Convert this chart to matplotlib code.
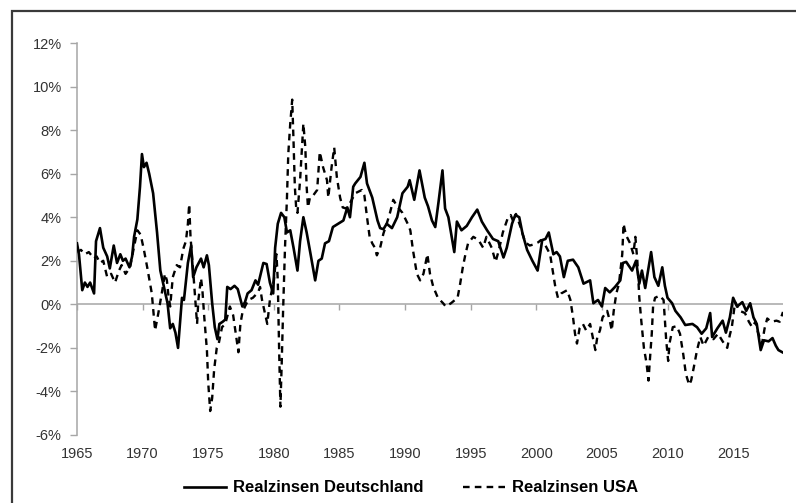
import matplotlib
matplotlib.use("Agg")
import matplotlib.pyplot as plt
from matplotlib.patches import Rectangle
from matplotlib.ticker import FuncFormatter

plt.rcParams['font.family'] = ['Liberation Sans', 'DejaVu Sans']

# Realzinsen Deutschland (solid)
de_years = [1965.0, 1965.15, 1965.4, 1965.6, 1965.8, 1966.0, 1966.3, 1966.45, 1966.75, 1967.0,
            1967.3, 1967.5, 1967.8, 1968.05, 1968.3, 1968.5, 1968.7, 1969.0, 1969.2, 1969.35,
            1969.6, 1969.8, 1969.95, 1970.1, 1970.3, 1970.5, 1970.8, 1971.1, 1971.35, 1971.7,
            1971.9, 1972.1, 1972.3, 1972.5, 1972.7, 1973.0, 1973.15, 1973.45, 1973.7, 1973.85,
            1974.1, 1974.45, 1974.65, 1974.9, 1975.05, 1975.3, 1975.5, 1975.7, 1975.85, 1976.1,
            1976.3, 1976.45, 1976.7, 1977.0, 1977.25, 1977.6, 1977.8, 1978.0, 1978.3, 1978.6,
            1978.8, 1979.2, 1979.45, 1979.7, 1979.95, 1980.1, 1980.3, 1980.55, 1980.8, 1981.0,
            1981.25, 1981.5, 1981.8, 1982.0, 1982.25, 1982.5, 1982.8, 1983.15, 1983.4, 1983.65,
            1983.9, 1984.2, 1984.5, 1984.9, 1985.3, 1985.6, 1985.8, 1986.05, 1986.2, 1986.6,
            1986.9, 1987.1, 1987.5, 1987.9, 1988.1, 1988.35, 1988.6, 1989.0, 1989.4, 1989.8,
            1990.2, 1990.35, 1990.7, 1991.1, 1991.5, 1991.75, 1992.05, 1992.3, 1992.55, 1992.85,
            1993.05, 1993.3, 1993.75, 1993.95, 1994.3, 1994.7, 1995.1, 1995.5, 1995.85, 1996.25,
            1996.7, 1997.1, 1997.5, 1997.75, 1998.15, 1998.4, 1998.7, 1998.95, 1999.3, 1999.7,
            2000.1, 2000.45, 2000.7, 2000.95, 2001.3, 2001.55, 2001.8, 2002.1, 2002.4, 2002.8,
            2003.2, 2003.6, 2004.1, 2004.35, 2004.7, 2005.0, 2005.25, 2005.6, 2006.0, 2006.4,
            2006.6, 2006.85, 2007.3, 2007.6, 2007.85, 2008.05, 2008.3, 2008.75, 2009.0, 2009.3,
            2009.6, 2009.8, 2010.0, 2010.35, 2010.6, 2011.0, 2011.35, 2011.9, 2012.25, 2012.6,
            2012.95, 2013.25, 2013.4, 2013.8, 2014.2, 2014.45, 2014.75, 2015.0, 2015.3, 2015.7,
            2016.0, 2016.3, 2016.55, 2016.8, 2017.1, 2017.35, 2017.7, 2018.0, 2018.25, 2018.45,
            2018.75]
de_vals = [2.8, 2.3, 0.65, 1.0, 0.8, 1.0, 0.5, 2.9, 3.5, 2.6,
           2.2, 1.65, 2.7, 1.9, 2.3, 2.0, 2.1, 1.7, 2.2, 3.1,
           3.9, 5.4, 6.9, 6.3, 6.5, 6.0, 5.1, 3.3, 1.55, 0.6,
           0.05, -1.1, -0.9, -1.3, -2.0, 0.3, 0.2, 1.9, 2.7, 1.25,
           1.7, 2.1, 1.7, 2.25, 1.8, 0.05, -1.05, -1.6, -0.9, -0.8,
           -0.7, 0.8, 0.7, 0.85, 0.7, -0.1, 0.1, 0.5, 0.65, 1.1,
           0.9, 1.9, 1.85, 1.0, 0.5, 2.6, 3.7, 4.2, 4.0, 3.3,
           3.4, 2.6, 1.55, 2.9, 4.0, 3.3, 2.3, 1.1, 2.0, 2.1,
           2.8, 2.9, 3.55, 3.7, 3.85, 4.45, 4.0, 5.4, 5.55, 5.85,
           6.5, 5.55, 4.9, 3.85, 3.5, 3.45, 3.7, 3.5, 4.0, 5.1,
           5.4, 5.7, 4.8, 6.15, 4.9, 4.5, 3.85, 3.55, 4.7, 6.15,
           4.4, 4.0, 2.4, 3.8, 3.4, 3.6, 4.0, 4.35, 3.8, 3.4,
           3.0, 2.9, 2.15, 2.6, 3.7, 4.1, 4.0, 3.25, 2.5, 2.0,
           1.55, 2.95, 3.0, 3.3, 2.3, 2.4, 2.2, 1.25, 2.0, 2.05,
           1.7, 0.95, 1.1, 0.05, 0.2, -0.1, 0.75, 0.55, 0.8, 1.1,
           1.9, 1.95, 1.55, 2.0, 0.95, 1.55, 0.75, 2.4, 1.25, 0.85,
           1.7, 0.85, 0.3, 0.05, -0.3, -0.6, -0.95, -0.9, -1.05, -1.35,
           -1.1, -0.4, -1.5, -1.1, -0.75, -1.3, -0.6, 0.3, -0.1, 0.1,
           -0.3, 0.05, -0.6, -0.9, -2.1, -1.65, -1.7, -1.55, -1.9, -2.1,
           -2.2]

# Realzinsen USA (dashed)
us_years = [1965.0, 1965.3, 1965.6, 1965.9, 1966.3, 1966.5, 1966.75, 1967.0, 1967.3, 1967.6,
            1967.9, 1968.2, 1968.4, 1968.7, 1969.05, 1969.3, 1969.6, 1969.85, 1970.1, 1970.35,
            1970.7, 1970.95, 1971.2, 1971.5, 1971.7, 1971.85, 1971.95, 1972.1, 1972.3, 1972.6,
            1972.85, 1973.1, 1973.3, 1973.45, 1973.55, 1973.65, 1973.85, 1974.0, 1974.15, 1974.25,
            1974.45, 1974.55, 1974.7, 1974.9, 1975.0, 1975.15, 1975.3, 1975.45, 1975.65, 1975.8,
            1976.05, 1976.3, 1976.65, 1976.9, 1977.2, 1977.3, 1977.45, 1977.6, 1977.8, 1978.05,
            1978.4, 1978.8, 1978.95, 1979.1, 1979.5, 1979.7, 1980.0, 1980.2, 1980.3, 1980.4,
            1980.5, 1980.6, 1980.7, 1980.85, 1981.0, 1981.1, 1981.25, 1981.4, 1981.5, 1981.6,
            1981.7, 1981.8, 1982.0, 1982.25, 1982.4, 1982.5, 1982.6, 1982.75, 1983.0, 1983.3,
            1983.5, 1983.75, 1984.05, 1984.15, 1984.4, 1984.6, 1984.8, 1985.05, 1985.25, 1985.5,
            1985.8, 1986.2, 1986.7, 1986.9, 1987.1, 1987.3, 1987.5, 1987.7, 1987.85, 1988.1,
            1988.35, 1988.6, 1988.85, 1989.1, 1989.4, 1989.8, 1990.2, 1990.4, 1990.6, 1990.9,
            1991.15, 1991.4, 1991.7, 1991.9, 1992.15, 1992.5, 1992.9, 1993.1, 1993.5, 1994.0,
            1994.2, 1994.4, 1994.6, 1994.8, 1995.2, 1995.6, 1995.95, 1996.2, 1996.6, 1996.9,
            1997.15, 1997.45, 1997.85, 1998.05, 1998.25, 1998.45, 1998.8, 1999.15, 1999.5, 1999.8,
            2000.15, 2000.35, 2000.7, 2001.05, 2001.25, 2001.45, 2001.65, 2001.9, 2002.35, 2002.6,
            2002.8, 2002.95, 2003.1, 2003.3, 2003.55, 2003.8, 2004.1, 2004.3, 2004.5, 2004.65,
            2004.85, 2005.05, 2005.4, 2005.6, 2005.75, 2005.9, 2006.1, 2006.3, 2006.55, 2006.65,
            2006.75, 2006.9, 2007.15, 2007.4, 2007.55, 2007.7, 2007.85, 2008.0, 2008.2, 2008.4,
            2008.55, 2008.65, 2008.8, 2008.9, 2009.05, 2009.4, 2009.7, 2009.8, 2009.9, 2010.05,
            2010.15, 2010.3, 2010.4, 2010.7, 2010.95, 2011.2, 2011.4, 2011.65, 2011.8, 2012.0,
            2012.25, 2012.5, 2012.75, 2013.1, 2013.5, 2013.85, 2014.2, 2014.55, 2014.75, 2014.9,
            2015.15, 2015.5, 2015.9, 2016.2, 2016.45, 2016.7, 2016.9, 2017.2, 2017.4, 2017.6,
            2017.9, 2018.3, 2018.55, 2018.8]
us_vals = [2.4, 2.5, 2.3, 2.4, 2.1, 2.2, 1.9, 2.0, 1.25, 1.4,
           1.0, 1.55, 1.8, 1.4, 1.7, 2.5, 3.4, 3.2, 2.5, 1.7,
           0.5, -1.2, -0.4, 0.65, 1.4, 1.1, 0.5, -0.1, 1.25, 1.8,
           1.7, 2.55, 2.9, 3.7, 4.6, 3.1, 1.55, 0.3, -0.9, 0.2,
           1.2, 0.7, -0.6, -2.1, -3.6, -4.9, -4.3, -3.0, -2.0, -1.8,
           -1.05, -0.9, -0.1, -0.5, -1.8, -2.2, -0.9, -0.4, -0.1, 0.2,
           0.3, 0.55, 0.8, 0.2, -0.9, 0.2, 1.1, 2.3, 1.1, -2.0,
           -4.7, -2.7, -0.4, 2.6, 4.9, 6.9, 8.3, 9.4, 7.5, 5.4,
           4.45, 4.2, 5.7, 8.3, 7.2, 5.4, 4.45, 4.9, 5.0, 5.25,
           7.0, 6.3, 5.7, 4.9, 6.3, 7.2, 5.85, 4.9, 4.45, 4.4,
           4.65, 5.1, 5.25, 5.0, 4.0, 3.1, 2.8, 2.6, 2.25, 2.6,
           3.25, 3.7, 4.2, 4.8, 4.5, 4.2, 3.7, 3.4, 2.5, 1.4,
           1.1, 1.4, 2.3, 1.4, 0.8, 0.3, 0.05, -0.1, 0.05, 0.3,
           0.95, 1.7, 2.3, 2.8, 3.1, 2.95, 2.6, 3.1, 2.6, 1.95,
           2.5, 3.3, 4.0, 4.1, 3.8, 4.15, 3.55, 2.85, 2.7, 2.75,
           2.85, 2.95, 2.7, 2.3, 1.55, 0.8, 0.3, 0.5, 0.65, 0.2,
           -0.6, -1.35, -1.8, -1.1, -0.9, -1.2, -0.9, -1.5, -2.1, -1.5,
           -1.2, -0.6, -0.3, -0.75, -1.2, -0.3, 0.5, 0.95, 2.3, 3.7,
           3.4, 3.1, 2.8, 2.3, 3.1, 2.0, 0.3, -0.75, -2.0, -2.7,
           -3.5, -2.6, -1.35, -0.1, 0.3, 0.4, 0.2, -0.75, -1.65, -2.6,
           -1.8, -1.35, -1.05, -1.0, -1.35, -2.3, -3.2, -3.7, -3.5, -2.9,
           -2.1, -1.5, -1.9, -1.5, -1.6, -1.35, -1.7, -2.0, -1.4, -1.05,
           0.1, -0.3, -0.4, -0.8, -1.05, -0.8, -1.3, -1.8, -1.1, -0.65,
           -0.8, -0.75, -0.8, -0.35]

x_ticks = [1965, 1970, 1975, 1980, 1985, 1990, 1995, 2000, 2005, 2010, 2015]
y_ticks = [-6, -4, -2, 0, 2, 4, 6, 8, 10, 12]
labels = ['Realzinsen Deutschland', 'Realzinsen USA']

fig = plt.figure(figsize=(7.96, 5.03), dpi=100)
ax = fig.add_axes([77 / 796, 1 - 435 / 503, (783 - 77) / 796, (435 - 43) / 503])

ax.axhline(0, color='#a6a6a6', lw=1.1, zorder=1)
ax.plot(de_years, de_vals, color='black', lw=1.9, label=labels[0], zorder=3)
ax.plot(us_years, us_vals, color='black', lw=1.7, dashes=(2.8, 2.2), label=labels[1], zorder=2)

ax.set_xlim(1965, 2018.8)
ax.set_ylim(-6, 12)
ax.set_yticks(y_ticks)
ax.yaxis.set_major_formatter(FuncFormatter(lambda v, p: '{:.0f}%'.format(v)))
ax.set_xticks(x_ticks)

for s in ['top', 'right', 'bottom']:
    ax.spines[s].set_visible(False)
ax.spines['left'].set_color('#a6a6a6')
ax.spines['left'].set_linewidth(1.1)
ax.tick_params(axis='y', direction='out', length=5, width=1, color='#a6a6a6',
               pad=6, labelsize=10.5, labelcolor='#333333')
ax.tick_params(axis='x', length=0, pad=9, labelsize=10.5, labelcolor='#333333')

# small ticks sitting on the zero line
sec = ax.secondary_xaxis(6 / 18)
sec.set_xticks(x_ticks)
sec.spines['bottom'].set_visible(False)
sec.tick_params(direction='out', length=4, width=1, color='#a6a6a6', labelbottom=False)

fig.legend(loc='center', bbox_to_anchor=(411 / 796, 1 - 488 / 503), ncol=2, frameon=False,
           prop={'weight': 'bold', 'size': 12}, handlelength=2.5, handletextpad=0.4,
           columnspacing=2.4, borderaxespad=0)

fig.add_artist(Rectangle((12 / 796, -0.05), 1.1, 1.05 - 11 / 503, transform=fig.transFigure,
                         fill=False, lw=1.6, ec='#3a3a3a'))

fig.savefig('out.png', dpi=100)
